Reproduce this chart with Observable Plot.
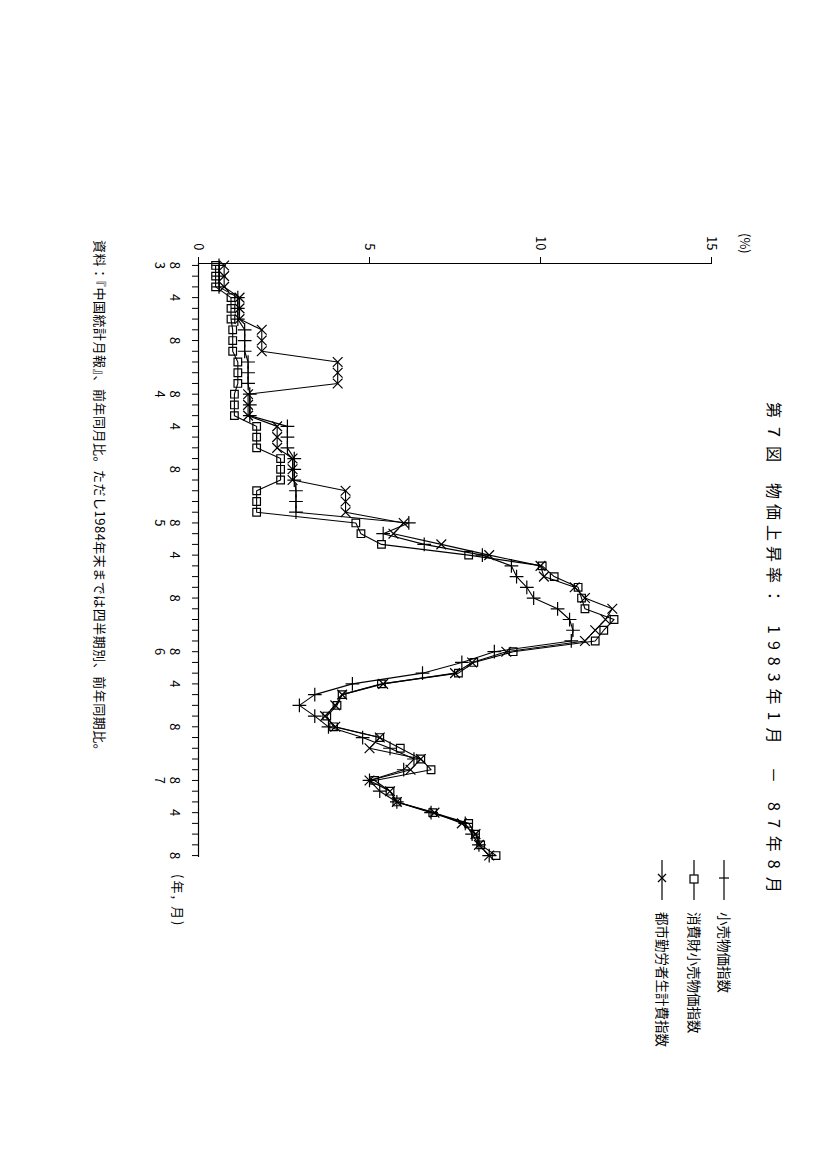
<!DOCTYPE html>
<html><head><meta charset="utf-8">
<script src="https://cdn.jsdelivr.net/npm/d3@7"></script>
<script src="https://cdn.jsdelivr.net/npm/@observablehq/plot@0.6"></script>
<style>
html,body{margin:0;padding:0;background:#fff;width:827px;height:1170px;overflow:hidden;}
#page{position:absolute;left:0;top:0;width:1170px;height:827px;transform-origin:0 0;transform:translate(827px,0) rotate(90deg);font-family:"Noto Sans CJK JP",sans-serif;color:#000;background:#fff;}
#chart{position:absolute;left:0;top:0;}
.t{position:absolute;white-space:nowrap;line-height:1;}
.tt{position:absolute;white-space:nowrap;line-height:1;top:44px;font-size:16px;}
.leg{position:absolute;left:860px;height:20px;}
.leg svg{position:absolute;left:0;top:0;overflow:visible;}
.leg span{position:absolute;left:52px;top:2px;font-size:13.5px;white-space:nowrap;line-height:1;}
</style></head><body>
<div id="page">
  <div id="chart"></div>
  <div class="tt" style="left:402px;letter-spacing:6px">第７図</div>
  <div class="tt" style="left:483px;letter-spacing:5px">物価上昇率：</div>
  <div class="tt" style="left:625px;letter-spacing:7px">1983年1月</div>
  <div class="tt" style="left:767px;">－</div>
  <div class="tt" style="left:802px;letter-spacing:8px">87年8月</div>
  <div class="t" style="left:233px;top:75px;font-size:13px">(%)</div>
  <div class="leg" style="top:94px"><svg width="44" height="20"><line x1="0" y1="9" x2="40" y2="9" stroke="#000" stroke-width="1.2"/><line x1="18" y1="4" x2="18" y2="14" stroke="#000" stroke-width="1.2"/></svg><span>小売物価指数</span></div>
  <div class="leg" style="top:124px"><svg width="44" height="20"><line x1="0" y1="9" x2="40" y2="9" stroke="#000" stroke-width="1.2"/><rect x="15" y="5" width="8" height="8" fill="#fff" stroke="#000" stroke-width="1.2"/></svg><span>消費財小売物価指数</span></div>
  <div class="leg" style="top:156px"><svg width="44" height="20"><line x1="0" y1="9" x2="40" y2="9" stroke="#000" stroke-width="1.2"/><path d="M14,5L22,13M22,5L14,13" stroke="#000" stroke-width="1.2"/></svg><span>都市勤労者生計費指数</span></div>
  <div class="t" style="left:874px;top:642px;font-size:13px;letter-spacing:2px">(年, 月)</div>
  <div class="t" style="left:240px;top:720px;font-size:13px;letter-spacing:0.5px">資料：『中国統計月報』、前年同月比。ただし1984年末までは四半期別、前年同期比。</div>
</div>
<script>
// month index 0 = 1983年1月 ... 55 = 1987年8月 (1983-84 quarterly values repeated per month)
const monthIndex = d3.range(56);

const retail = [ // 小売物価指数 (+)
  0.6,0.6,0.6, 1.15,1.15,1.15, 1.35,1.35,1.35, 1.45,1.45,1.45,
  1.5,1.5,1.5, 2.6,2.6,2.6, 2.8,2.8,2.8, 2.85,2.85,2.85,
  6.15,5.4,6.6,8.3,9.15,9.3,9.6,9.8,10.5,10.85,10.95,10.9,
  8.65,7.7,6.55,4.5,3.4,2.95,3.4,3.8,4.8,5.6,6.3,6.0,
  5.0,5.3,5.8,6.8,7.8,8.0,8.2,8.5];

const consumer = [ // 消費財小売物価指数 (□)
  0.5,0.5,0.5, 0.95,0.95,0.95, 1.0,1.0,1.0, 1.15,1.15,1.15,
  1.05,1.05,1.05, 1.7,1.7,1.7, 2.4,2.4,2.4, 1.7,1.7,1.7,
  4.6,4.75,5.35,7.9,10.05,10.4,11.1,11.2,11.3,12.15,11.85,11.6,
  9.2,8.05,7.6,5.35,4.2,4.05,3.75,3.95,5.3,5.9,6.5,6.8,
  5.15,5.6,5.8,6.85,7.9,8.1,8.25,8.7];

const living = [ // 都市勤労者生計費指数 (×)
  0.75,0.75,0.75, 1.2,1.2,1.2, 1.85,1.85,1.85, 4.07,4.07,4.07,
  1.45,1.45,1.45, 2.3,2.3,2.3, 2.75,2.75,2.75, 4.3,4.3,4.3,
  6.0,5.7,7.1,8.5,10.0,10.1,11.0,11.3,12.1,11.9,11.6,11.3,
  9.0,8.0,7.5,5.4,4.2,4.0,3.7,4.0,5.3,5.0,6.5,6.2,
  5.0,5.6,5.8,6.9,7.7,8.1,8.2,8.5];

const xLabelMonths = [0,3,7,12,15,19,24,27,31,36,39,43,48,51,55];
const xLabelTexts  = ["8\n3","4","8","8\n4","4","8","8\n5","4","8","8\n6","4","8","8\n7","4","8"];
const yTicks = [0,5,10,15];
const yTickLabels = ["0","5","10","15"];

const seriesNames = ["小売物価指数","消費財小売物価指数","都市勤労者生計費指数"];
const seriesValues = [retail, consumer, living];
const rows = [];
seriesValues.forEach((vals, k) => vals.forEach((v, i) => rows.push({m: monthIndex[i], v, s: seriesNames[k]})));
const bySeries = k => rows.filter(d => d.s === seriesNames[k]);

const xmin = -0.18, xmax = 55.18;
const chart = Plot.plot({
  width: 1170, height: 827,
  marginLeft: 263, marginRight: 313, marginTop: 115, marginBottom: 199,
  x: {domain: [xmin, xmax], axis: null, label: null},
  y: {domain: [0, 15], axis: null, label: null},
  style: {fontFamily: "'Noto Sans CJK JP', sans-serif", fontSize: "13px", background: "transparent", color: "#000", overflow: "visible"},
  marks: [
    Plot.ruleY([0], {stroke: "#000", strokeWidth: 1.2}),
    Plot.ruleX([xmin], {y1: 0, y2: 15, stroke: "#000", strokeWidth: 1.2}),
    Plot.axisY({ticks: yTicks, label: null, tickSize: 6, tickPadding: 7, tickFormat: (d) => yTickLabels[yTicks.indexOf(d)], stroke: "#000", fontSize: 13}),
    Plot.axisX({ticks: monthIndex, label: null, tickSize: 7, tickFormat: () => "", stroke: "#000"}),
    Plot.axisX({ticks: xLabelMonths, label: null, tickSize: 0, tickPadding: 18, lineHeight: 1.15, tickFormat: (d) => xLabelTexts[xLabelMonths.indexOf(d)], fontSize: 13}),
    Plot.line(bySeries(0), {x: "m", y: "v", stroke: "#000", strokeWidth: 1.1}),
    Plot.line(bySeries(1), {x: "m", y: "v", stroke: "#000", strokeWidth: 1.1}),
    Plot.line(bySeries(2), {x: "m", y: "v", stroke: "#000", strokeWidth: 1.1}),
    Plot.dot(bySeries(0), {x: "m", y: "v", symbol: "plus", r: 4.5, stroke: "#000", strokeWidth: 1.2}),
    Plot.dot(bySeries(1), {x: "m", y: "v", symbol: "square", r: 4.3, stroke: "#000", fill: "none", strokeWidth: 1.2}),
    Plot.dot(bySeries(2), {x: "m", y: "v", symbol: "times", r: 4.5, stroke: "#000", strokeWidth: 1.2})
  ]
});
document.getElementById("chart").appendChild(chart);
</script>
</body></html>
